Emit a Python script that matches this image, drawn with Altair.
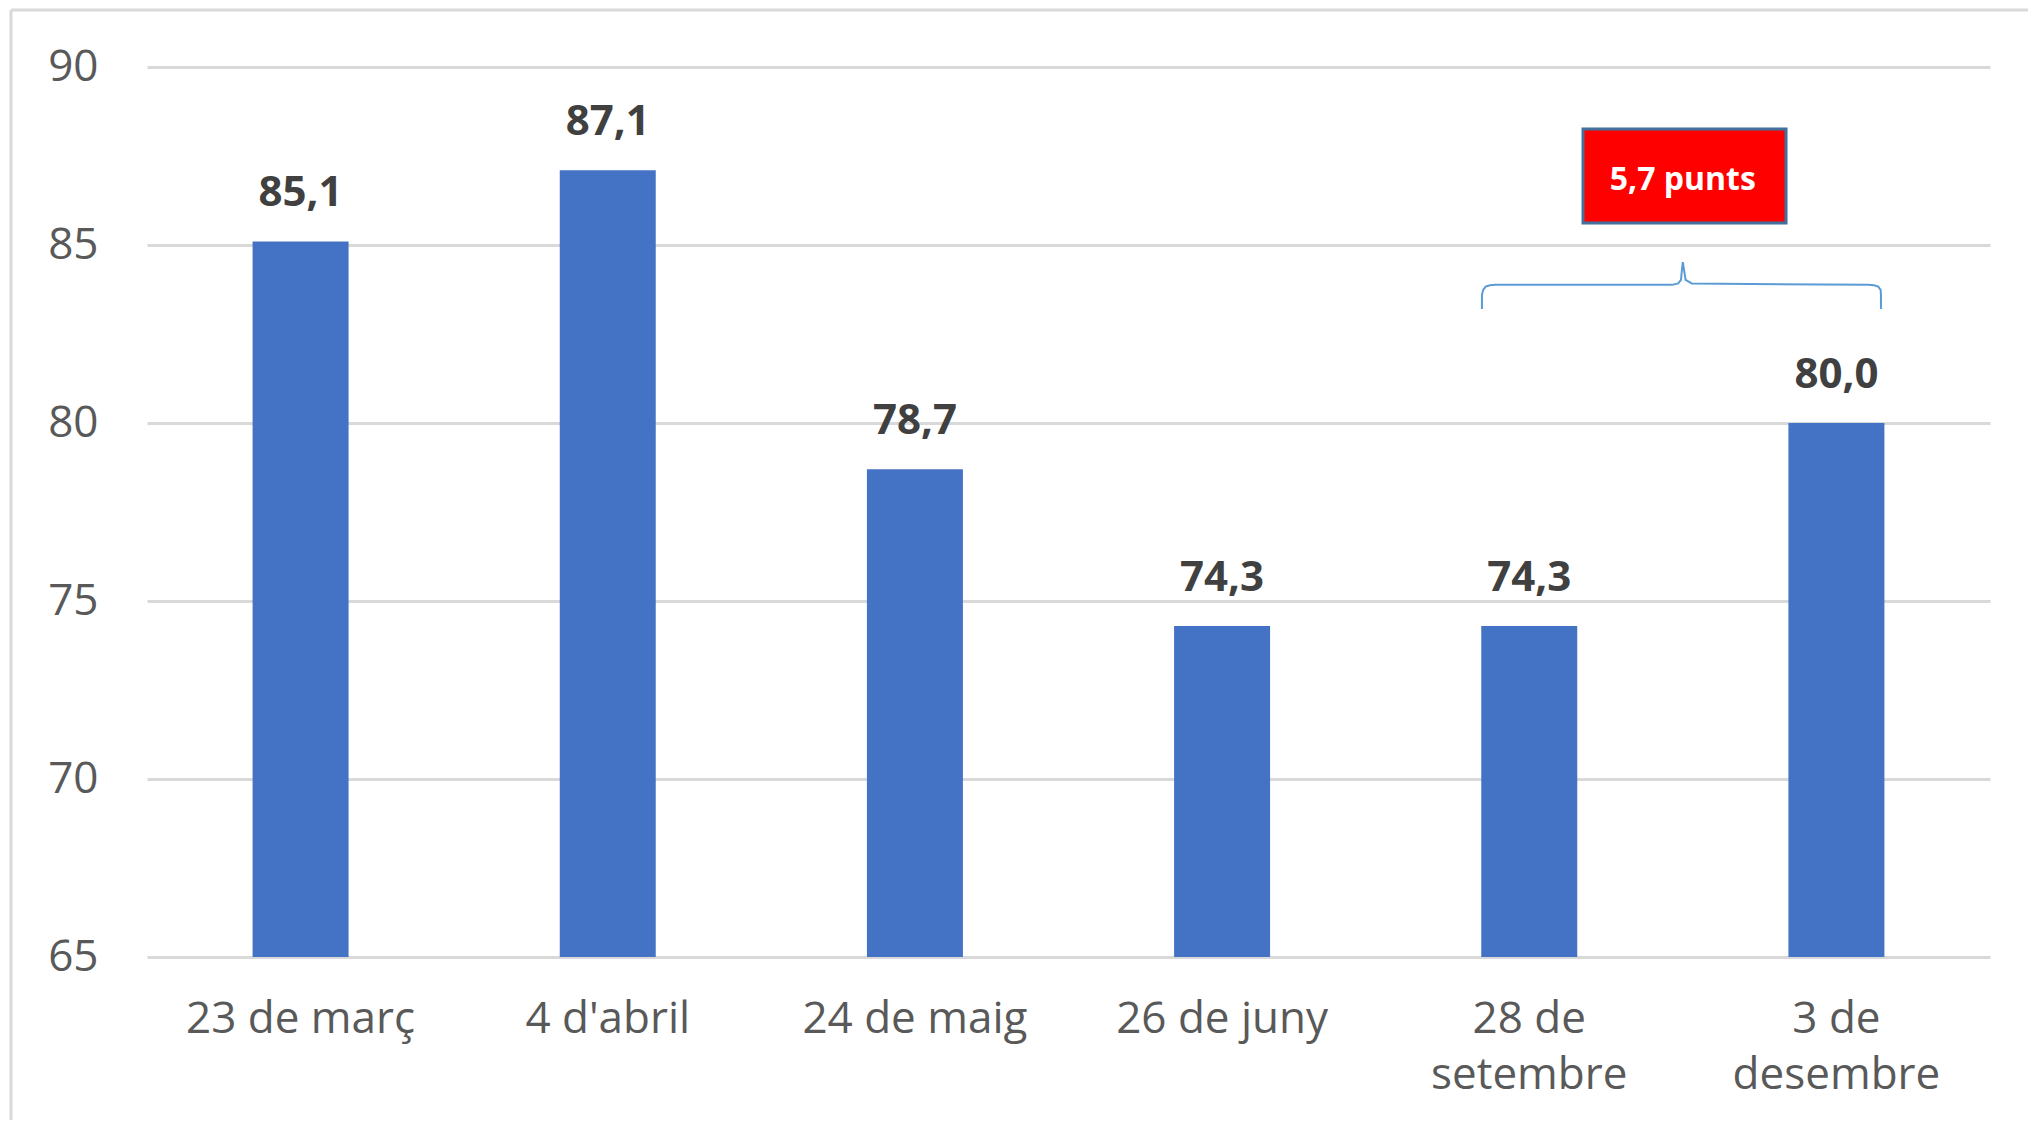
import altair as alt
import pandas as pd

# ---- data ----
categories = ["23 de març", "4 d'abril", "24 de maig", "26 de juny", "28 de setembre", "3 de desembre"]
label_lines = [["23 de març"], ["4 d'abril"], ["24 de maig"], ["26 de juny"], ["28 de", "setembre"], ["3 de", "desembre"]]
values = [85.1, 87.1, 78.7, 74.3, 74.3, 80.0]

annot_text = ["5,7 punts"]
box_x = [4.675]
box_x2 = [5.336]
box_y = [88.26]
box_y2 = [85.62]
box_text_x = [5.0]
box_text_y = [87.0]

brace_x = [4.346, 4.346, 4.350, 4.358, 4.372, 4.390, 4.965, 4.985, 4.994, 4.997,
           5.000, 5.009, 5.029, 5.604, 5.622, 5.636, 5.644, 5.645, 5.645]
brace_y = [83.20, 83.60, 83.74, 83.83, 83.87, 83.88, 83.88, 83.92, 84.02, 84.30,
           84.52, 84.02, 83.92, 83.88, 83.87, 83.83, 83.74, 83.60, 83.20]

y_domain = [65, 90]
y_ticks = [65, 70, 75, 80, 85, 90]

# ---- style ----
FONT = "Open Sans"
BAR = "#4472C4"
GRID = "#D9D9D9"
AXIS_TXT = "#595959"
VAL_TXT = "#404040"

df = pd.DataFrame({"cat": categories, "value": values})

label_map = {c: l for c, l in zip(categories, label_lines)}
label_expr = ""
for c, l in label_map.items():
    arr = "[" + ",".join("'" + s.replace("'", "\\'") + "'" for s in l) + "]"
    cc = c.replace("'", "\\'")
    label_expr += f"datum.label == '{cc}' ? {arr} : "
label_expr += "datum.label"

xscale = alt.Scale(domain=categories, paddingInner=0.6875, paddingOuter=0.34375)
yscale = alt.Scale(domain=y_domain, nice=False, zero=False)

bars = alt.Chart(df).mark_bar(color=BAR).encode(
    x=alt.X("cat:N", sort=categories, scale=xscale, title=None,
            axis=alt.Axis(labelExpr=label_expr, labelAngle=0, labelFont=FONT, labelFontSize=44,
                          labelColor=AXIS_TXT, labelPadding=40, labelBaseline="top",
                          labelLineHeight=56, ticks=False, domain=False, grid=False,
                          labelLimit=400)),
    y=alt.Y("value:Q", scale=yscale, title=None,
            axis=alt.Axis(values=y_ticks, labelFont=FONT, labelFontSize=44, labelColor=AXIS_TXT,
                          labelPadding=49, ticks=False, domain=False, grid=True,
                          gridColor=GRID, gridWidth=3)),
    y2=alt.datum(65),
)

val_labels = alt.Chart(df).transform_calculate(
    label="replace(format(datum.value, '.1f'), '.', ',')"
).mark_text(font=FONT, fontSize=42, fontWeight="bold", color=VAL_TXT,
            baseline="alphabetic", align="center", dy=-35).encode(
    x=alt.X("cat:N", sort=categories, scale=xscale, axis=None),
    y=alt.Y("value:Q", scale=yscale),
    text="label:N",
)

xq = alt.Scale(domain=[0, 6], nice=False, zero=False)

box_df = pd.DataFrame({"x": box_x, "x2": box_x2, "y": box_y, "y2": box_y2})
box = alt.Chart(box_df).mark_rect(color="#FF0000", stroke="#41719C", strokeWidth=3).encode(
    x=alt.X("x:Q", scale=xq, axis=None),
    x2="x2:Q",
    y=alt.Y("y:Q", scale=yscale),
    y2="y2:Q",
)

box_txt_df = pd.DataFrame({"x": box_text_x, "y": box_text_y, "t": annot_text})
box_txt = alt.Chart(box_txt_df).mark_text(font=FONT, fontSize=32, fontWeight="bold", color="white",
                                          baseline="alphabetic", align="center", dy=16).encode(
    x=alt.X("x:Q", scale=xq, axis=None),
    y=alt.Y("y:Q", scale=yscale),
    text="t:N",
)

brace_df = pd.DataFrame({"x": brace_x, "y": brace_y, "o": list(range(len(brace_x)))})
brace = alt.Chart(brace_df).mark_line(color="#5B9BD5", strokeWidth=2).encode(
    x=alt.X("x:Q", scale=xq, axis=None),
    y=alt.Y("y:Q", scale=yscale),
    order="o:Q",
)

frame_top = alt.Chart(alt.Data(values=[{}])).mark_rule(color=GRID, strokeWidth=3).encode(
    x=alt.value(-136), x2=alt.value(1960), y=alt.value(-57)
)
frame_left = alt.Chart(alt.Data(values=[{}])).mark_rule(color=GRID, strokeWidth=3).encode(
    x=alt.value(-136), y=alt.value(-57), y2=alt.value(1200)
)

chart = alt.layer(bars, val_labels, box, box_txt, brace, frame_top, frame_left).resolve_scale(
    x="independent"
).properties(
    width=1843, height=890,
    background="white",
    autosize=alt.AutoSizeParams(type="none"),
    padding={"left": 139, "top": 59, "right": 38, "bottom": 163},
).configure_view(strokeWidth=0, stroke="transparent")

chart.save("out.html", embed_options={"renderer": "svg", "actions": False})
